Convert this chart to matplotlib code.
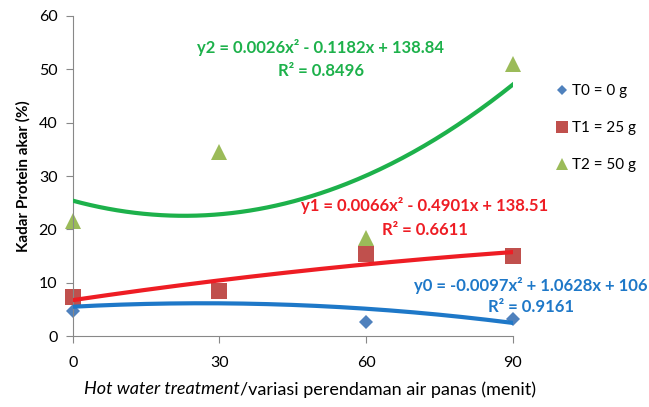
import numpy as np
import matplotlib
matplotlib.use("Agg")
import matplotlib.pyplot as plt

plt.rcParams['font.family'] = ['Lato', 'DejaVu Sans']

x_vals = [0, 30, 60, 90]
t0 = [4.7, 8.6, 2.7, 3.3]
t1 = [7.4, 8.5, 15.4, 15.1]
t2 = [21.5, 34.5, 18.4, 51.0]
labels = ["T0 = 0 g", "T1 = 25 g", "T2 = 50 g"]
eq_texts = [("y0 = -0.0097x\u00b2 + 1.0628x + 106", "R\u00b2 = 0.9161"),
            ("y1 = 0.0066x\u00b2 - 0.4901x + 138.51", "R\u00b2 = 0.6611"),
            ("y2 = 0.0026x\u00b2 - 0.1182x + 138.84", "R\u00b2 = 0.8496")]

fig = plt.figure(figsize=(6.49, 4.07), dpi=100)
ax = fig.add_axes([0.112, 0.174, 0.678, 0.787])

marker_colors = ["#4F81BD", "#C0504D", "#9BBB59"]
line_colors = ["#1E78C8", "#EE1D24", "#1DB14B"]
markers = ["D", "s", "^"]
msizes = [7, 11, 11]
series = [t0, t1, t2]

handles = []
for s, mc, mk, ms, lab in zip(series, marker_colors, markers, msizes, labels):
    h, = ax.plot(x_vals, s, linestyle='none', marker=mk, markersize=ms,
                 color=mc, markeredgewidth=0, label=lab, zorder=2, clip_on=False)
    handles.append(h)

xx = np.linspace(0, 90, 200)
for s, lc in zip(series, line_colors):
    c = np.polyfit(x_vals, s, 2)
    ax.plot(xx, np.polyval(c, xx), color=lc, linewidth=3, zorder=3)

ax.set_xlim(0, 90)
ax.set_ylim(0, 60)
ax.set_xticks([0, 30, 60, 90])
ax.set_yticks(range(0, 61, 10))
for sp in ['top', 'right']:
    ax.spines[sp].set_visible(False)
for sp in ['left', 'bottom']:
    ax.spines[sp].set_color('#888888')
    ax.spines[sp].set_linewidth(0.8)
ax.tick_params(axis='both', colors='#888888', labelcolor='black', labelsize=11.5,
               length=5, direction='out')
ax.tick_params(axis='x', pad=9)
ax.tick_params(axis='y', pad=6)
ax.set_ylabel("Kadar Protein akar (%)", fontsize=11, fontweight='bold', labelpad=6)

# equations
eq_pos = [((93.7, 9.5), (93.7, 5.5)), ((72, 24.5), (72, 19.8)), ((50.7, 54.0), (50.7, 49.7))]
for (e, r), ((ex, ey), (rx, ry)), lc in zip(eq_texts, eq_pos, line_colors):
    ax.text(ex, ey, e, color=lc, fontsize=12, fontweight='bold', ha='center', va='center', clip_on=False)
    ax.text(rx, ry, r, color=lc, fontsize=12, fontweight='bold', ha='center', va='center', clip_on=False)

fig.legend(handles=handles, loc='upper left', bbox_to_anchor=(0.836, 0.827),
           frameon=False, fontsize=11, labelspacing=1.5, handlelength=0.8,
           handletextpad=0.25, markerscale=0.75)

# x label with mixed italic
fig.canvas.draw()
renderer = fig.canvas.get_renderer()
t_it = fig.text(0.5, 0.043, "Hot water treatment", fontsize=13, style='italic', ha='left', va='center')
t_rest = fig.text(0.5, 0.043, "/variasi perendaman air panas (menit)", fontsize=13, ha='left', va='center')
w1 = t_it.get_window_extent(renderer).width / fig.bbox.width
w2 = t_rest.get_window_extent(renderer).width / fig.bbox.width
center = (78 + 542) / 2 / 649
start = center - (w1 + w2) / 2
t_it.set_x(start)
t_rest.set_x(start + w1)

fig.savefig("out.png", dpi=100)
